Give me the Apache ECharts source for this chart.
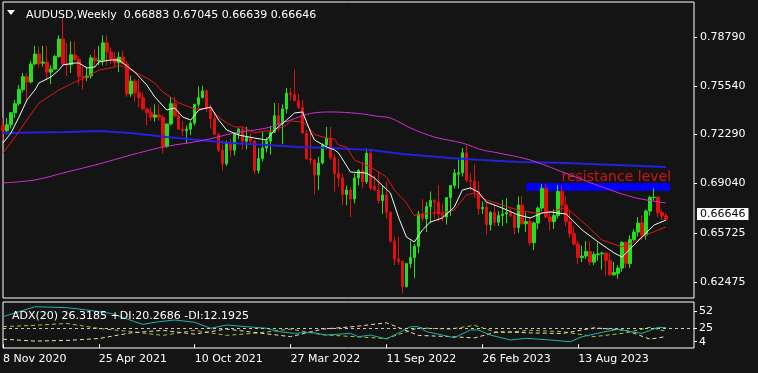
<!DOCTYPE html>
<html><head><meta charset="utf-8">
<script src="https://cdn.jsdelivr.net/npm/echarts@6/dist/echarts.min.js"></script>
<style>html,body{margin:0;padding:0;background:#141414;}#c{width:758px;height:373px;}</style>
</head><body><div id="c"></div>
<script>
const symbolName = 'AUDUSD,Weekly';
const dateTicks = ['8 Nov 2020','25 Apr 2021','10 Oct 2021','27 Mar 2022','11 Sep 2022','26 Feb 2023','13 Aug 2023'];
const priceTicks = [0.78790, 0.75540, 0.72290, 0.69040, 0.65725, 0.62475];
const adxTicks = [52, 25, 4];
const adxTitle = 'ADX(20) 26.3185 +DI:20.2686 -DI:12.1925';

const open = [.7290,.7255,.7295,.7375,.7435,.7530,.7615,.7580,.7700,.7765,.7705,.7712,.7645,.7665,.7750,.7865,.7700,.7695,.7760,.7730,
.7615,.7610,.7620,.7740,.7720,.7725,.7840,.7780,.7735,.7710,.7745,.7700,.7500,.7585,.7510,.7475,.7400,.7375,.7345,.7360,
.7345,.7150,.7300,.7435,.7355,.7265,.7255,.7265,.7305,.7430,.7475,.7520,.7405,.7335,.7230,.7125,.7035,.7175,.7125,.7235,
.7265,.7185,.7210,.7185,.6990,.7070,.7140,.7185,.7245,.7355,.7300,.7400,.7505,.7495,.7455,.7410,.7240,.7070,.7060,.6960,
.7040,.7160,.7205,.7075,.6970,.6940,.6830,.6860,.6800,.6940,.6990,.6915,.7105,.6885,.6860,.6790,.6827,.6712,.6520,.6400,
.6385,.6217,.6370,.6410,.6486,.6700,.6670,.6750,.6790,.6780,.6700,.6680,.6810,.6890,.6965,.6975,.7108,.6925,.6919,.6850,
.6735,.6745,.6630,.6710,.6645,.6690,.6700,.6710,.6690,.6610,.6760,.6635,.6650,.6510,.6640,.6740,.6870,.6680,.6650,.6690,
.6850,.6760,.6650,.6570,.6500,.6410,.6420,.6450,.6380,.6430,.6435,.6440,.6390,.6295,.6305,.6340,.6510,.6370,.6530,.6580,
.6640,.6560,.6720,.6810,.6812,.6710,.66883];
const high = [.7340,.7340,.7380,.7460,.7560,.7640,.7640,.7720,.7820,.7815,.7820,.7820,.7690,.7760,.7890,.8007,.7840,.7850,.7850,.7750,
.7680,.7680,.7760,.7800,.7820,.7890,.7890,.7810,.7780,.7780,.7790,.7720,.7620,.7600,.7600,.7510,.7410,.7410,.7430,.7430,
.7360,.7300,.7480,.7480,.7390,.7320,.7290,.7320,.7435,.7550,.7555,.7530,.7430,.7370,.7240,.7190,.7190,.7200,.7240,.7275,
.7280,.7280,.7240,.7195,.7140,.7250,.7210,.7285,.7440,.7440,.7430,.7540,.7540,.7661,.7500,.7460,.7260,.7265,.7065,.7080,
.7170,.7280,.7280,.7100,.7070,.6970,.6890,.6880,.6970,.7000,.7050,.7137,.7135,.6957,.6980,.6890,.6916,.6720,.6550,.6550,
.6390,.6370,.6522,.6500,.6720,.6800,.6780,.6850,.6800,.6893,.6770,.6810,.6890,.7000,.7063,.7140,.7158,.6970,.7030,.6920,
.6783,.6785,.6720,.6760,.6720,.6795,.6805,.6740,.6700,.6818,.6818,.6710,.6680,.6650,.6750,.6900,.6900,.6720,.6730,.6895,
.6890,.6820,.6720,.6620,.6520,.6490,.6520,.6520,.6450,.6510,.6450,.6445,.6445,.6380,.6360,.6520,.6520,.6560,.6600,.6680,
.6690,.6730,.6820,.6871,.6820,.6730,.67045];
const low = [.7190,.7230,.7270,.7340,.7420,.7510,.7460,.7570,.7690,.7675,.7680,.7590,.7565,.7660,.7740,.7690,.7620,.7640,.7720,.7560,
.7530,.7585,.7600,.7675,.7690,.7690,.7690,.7700,.7680,.7645,.7700,.7480,.7480,.7450,.7410,.7390,.7290,.7320,.7315,.7320,
.7105,.7140,.7290,.7340,.7260,.7220,.7170,.7225,.7290,.7410,.7470,.7380,.7270,.7230,.7110,.6990,.7020,.7080,.7090,.7200,
.7130,.7130,.7170,.6965,.6970,.7050,.7110,.7095,.7240,.7250,.7165,.7370,.7455,.7455,.7400,.7235,.7060,.7030,.6830,.6860,
.7030,.7130,.7060,.6850,.6880,.6760,.6760,.6680,.6770,.6890,.6870,.6900,.6860,.6855,.6770,.6700,.6670,.6510,.6360,.6360,
.6170,.6210,.6340,.6272,.6440,.6650,.6580,.6640,.6670,.6650,.6650,.6630,.6688,.6870,.6870,.6950,.6910,.6855,.6810,.6695,
.6700,.6565,.6590,.6620,.6620,.6620,.6640,.6680,.6565,.6575,.6630,.6580,.6490,.6460,.6600,.6720,.6670,.6590,.6600,.6670,
.6710,.6620,.6540,.6490,.6365,.6380,.6400,.6360,.6360,.6390,.6330,.6290,.6285,.6290,.6270,.6315,.6340,.6340,.6520,.6550,
.6525,.6530,.6690,.6790,.6680,.6660,.66639];
const close = [.7255,.7295,.7375,.7435,.7530,.7615,.7580,.7700,.7765,.7700,.7712,.7645,.7665,.7750,.7865,.7700,.7695,.7760,.7730,.7615,
.7610,.7620,.7740,.7720,.7725,.7840,.7780,.7735,.7710,.7745,.7700,.7500,.7585,.7510,.7475,.7400,.7375,.7345,.7360,.7345,
.7150,.7300,.7435,.7355,.7265,.7255,.7265,.7305,.7430,.7475,.7520,.7405,.7335,.7230,.7125,.7035,.7175,.7125,.7235,.7265,
.7185,.7210,.7185,.6990,.7070,.7140,.7185,.7245,.7355,.7300,.7400,.7505,.7495,.7455,.7410,.7240,.7070,.7060,.6960,.7040,
.7160,.7205,.7075,.6970,.6940,.6830,.6860,.6800,.6940,.6990,.6915,.7105,.6873,.6860,.6790,.6827,.6712,.6520,.6400,.6385,
.6217,.6370,.6410,.6486,.6700,.6670,.6750,.6790,.6780,.6700,.6680,.6810,.6890,.6974,.6975,.7108,.6925,.6919,.6850,.6735,
.6745,.6630,.6710,.6645,.6690,.6700,.6710,.6690,.6610,.6760,.6635,.6650,.6510,.6640,.6740,.6870,.6680,.6650,.6690,.6850,
.6760,.6650,.6570,.6500,.6410,.6420,.6450,.6380,.6430,.6435,.6440,.6390,.6295,.6310,.6340,.6510,.6370,.6530,.6580,.6640,
.6560,.6720,.6810,.6812,.6710,.6688,.66646];

// moving averages: [bar index, value]
const maFast = [[0,.7173],[2,.7240],[4,.7346],[6,.7460],[8,.7526],[9,.7573],[12,.7613],[14,.7659],[15,.7693],[18,.7706],[19,.7706],[21,.7673],[23,.7679],[24,.7713],[27,.7726],[29,.7726],[33,.7646],[36,.7559],[38,.7480],[41,.7393],[43,.7406],[45,.7346],[47,.7326],[49,.7393],[52,.7413],[54,.7326],[56,.7260],[59,.7226],[63,.7206],[66,.7193],[68,.7260],[71,.7326],[73,.7373],[75,.7380],[77,.7246],[78,.7193],[81,.7147],[83,.7127],[84,.7107],[87,.6980],[91,.6973],[93,.6940],[97,.6840],[99,.6680],[101,.6547],[103,.6514],[105,.6594],[107,.6647],[110,.6674],[113,.6747],[115,.6860],[117,.6874],[119,.6847],[121,.6780],[125,.6740],[129,.6694],[132,.6674],[135,.6707],[137,.6714],[141,.6700],[145,.6594],[149,.6514],[153,.6441],[155,.6414],[158,.6494],[160,.6547],[163,.6627],[166,.6660]];
const maSlow = [[0,.7107],[3,.7213],[6,.7326],[9,.7440],[14,.7526],[18,.7579],[21,.7613],[24,.7659],[28,.7679],[29,.7693],[33,.7646],[36,.7606],[38,.7573],[40,.7513],[43,.7460],[44,.7440],[48,.7400],[52,.7406],[53,.7373],[54,.7346],[56,.7306],[58,.7280],[60,.7280],[63,.7240],[64,.7246],[68,.7260],[71,.7293],[72,.7320],[75,.7313],[76,.7293],[78,.7230],[81,.7206],[83,.7200],[84,.7160],[86,.7147],[88,.7060],[92,.7013],[96,.6947],[98,.6860],[101,.6774],[103,.6690],[107,.6707],[110,.6707],[113,.6727],[116,.6827],[118,.6840],[121,.6794],[125,.6760],[129,.6727],[133,.6707],[137,.6714],[141,.6745],[146,.6627],[150,.6527],[155,.6481],[158,.6514],[161,.6561],[164,.6594],[166,.6614]];
const maMid = [[0,.6907],[8,.6927],[16,.6980],[24,.7033],[32,.7093],[40,.7146],[50,.7190],[58,.7240],[66,.7273],[72,.7326],[77,.7370],[82,.7380],[89,.7370],[94,.7350],[97,.7340],[102,.7273],[108,.7213],[115,.7173],[120,.7127],[124,.7107],[132,.7060],[142,.6960],[150,.6880],[158,.6810],[166,.6774]];
const maLong = [[0,.7240],[16,.7246],[24,.7253],[32,.7240],[41,.7213],[49,.7193],[57,.7173],[66,.7160],[74,.7146],[82,.7140],[92,.7127],[100,.7100],[112,.7073],[120,.7060],[129,.7047],[141,.7040],[166,.7013]];

const adx = [[0,43.7],[8,59.5],[16,58],[21,54.3],[27,49],[33,35.7],[35,31.6],[39,35.7],[43,38.4],[48,34.8],[52,25.3],[56,30.5],[61,27.8],[66,25.3],[69,19.9],[73,17.3],[77,18.9],[81,14.6],[87,17.3],[89,11.9],[92,14.6],[96,8.3],[98,14.6],[102,27.8],[104,27.8],[106,19.9],[110,14.6],[113,10.3],[117,22.6],[119,22.6],[122,14.6],[127,6.7],[131,9.4],[137,6.7],[142,4.0],[145,11.9],[150,18.9],[154,23.7],[157,19.9],[160,17.3],[164,26.8],[166,26.3]];
const plusDI = [[0,28],[8,30],[16,33],[24,25],[32,20],[40,14],[48,22],[56,14],[64,18],[72,24],[80,15],[88,12],[96,9],[104,26],[112,24],[118,30],[124,18],[132,22],[140,20],[148,12],[156,18],[162,27],[166,20.27]];
const minusDI = [[0,8],[8,5],[16,6],[24,9],[32,18],[40,22],[48,16],[56,24],[64,18],[72,12],[80,24],[88,28],[96,34],[104,14],[112,12],[118,10],[124,20],[132,18],[140,17],[148,26],[156,22],[162,8],[166,12.19]];

const resistance = {from: 131, to: 167, top: 0.6907, bottom: 0.6855, text: 'resistance level'};

const N = 174;
const start = Date.UTC(2020, 10, 8);
const categories = [];
for (let i = 0; i < N; i++) categories.push(new Date(start + i * 7 * 86400000).toISOString().slice(0, 10));
const candles = open.map((o, i) => [o, close[i], low[i], high[i]]);
const last = open.length - 1;

const FONT = 'DejaVu Sans';
const WHITE = '#ffffff';
const chart = echarts.init(document.getElementById('c'), null, {renderer: 'canvas'});
const tickShow = (i) => i % 24 === 0 && i / 24 < dateTicks.length;

chart.setOption({
  animation: false,
  backgroundColor: '#141414',
  textStyle: {fontFamily: FONT},
  title: [
    {text: symbolName + '  ' + [open[last], high[last], low[last], close[last]].map(v => v.toFixed(5)).join(' '),
     left: 21, top: 5, textStyle: {color: WHITE, fontSize: 11, fontWeight: 'normal', fontFamily: FONT}},
    {text: adxTitle, left: 7, top: 306, textStyle: {color: WHITE, fontSize: 11, fontWeight: 'normal', fontFamily: FONT}}
  ],
  graphic: [{type: 'polygon', shape: {points: [[7, 10], [15, 10], [11, 15]]}, style: {fill: WHITE}, z: 100}],
  grid: [
    {left: 3, width: 691, top: 2, height: 296, show: true, borderColor: WHITE, borderWidth: 1, backgroundColor: '#141414'},
    {left: 3, width: 691, top: 302, height: 46, show: true, borderColor: WHITE, borderWidth: 1, backgroundColor: '#141414'}
  ],
  xAxis: [
    {type: 'category', gridIndex: 0, data: categories, boundaryGap: false,
     axisLine: {show: false}, axisTick: {show: false}, axisLabel: {show: false}, splitLine: {show: false}},
    {type: 'category', gridIndex: 1, data: categories, boundaryGap: false,
     axisLine: {show: false},
     axisTick: {show: true, interval: tickShow, length: 4, lineStyle: {color: WHITE}},
     axisLabel: {show: true, interval: tickShow, color: WHITE, fontSize: 11, fontFamily: FONT, align: 'left', margin: 6,
       formatter: (v, i) => dateTicks[Math.round(i / 24)]},
     splitLine: {show: false}}
  ],
  yAxis: [
    {type: 'value', gridIndex: 0, position: 'right', min: 0.61410, max: 0.81121, scale: true,
     axisLine: {show: false}, splitLine: {show: false},
     axisTick: {show: true, customValues: priceTicks, length: 3, lineStyle: {color: WHITE}},
     axisLabel: {show: true, customValues: priceTicks, color: WHITE, fontSize: 11, fontFamily: FONT, margin: 6,
       formatter: v => v.toFixed(5)}},
    {type: 'value', gridIndex: 1, position: 'right', min: -6, max: 67,
     axisLine: {show: false}, splitLine: {show: false},
     axisTick: {show: true, customValues: adxTicks, length: 3, lineStyle: {color: WHITE}},
     axisLabel: {show: true, customValues: adxTicks, color: WHITE, fontSize: 11, fontFamily: FONT, margin: 5,
       formatter: v => String(Math.round(v))}}
  ],
  series: [
    {type: 'line', name: 'zone', xAxisIndex: 0, yAxisIndex: 0, data: [], z: 1, silent: true,
     markArea: {silent: true, itemStyle: {color: '#0000ff', opacity: 1},
       label: {show: true, position: 'insideTopRight', offset: [6, -18], color: '#d41414', fontSize: 14, fontFamily: FONT},
       data: [[{name: resistance.text, coord: [resistance.from, resistance.top]}, {coord: [resistance.to, resistance.bottom]}]]}},
    {type: 'candlestick', name: 'AUDUSD', xAxisIndex: 0, yAxisIndex: 0, data: candles, barWidth: 3, z: 3,
     itemStyle: {color: '#20e020', color0: '#e01010', borderColor: '#20e020', borderColor0: '#e01010', borderWidth: 1},
     markLine: {silent: true, symbol: 'none', lineStyle: {color: 'rgba(0,0,0,0)', width: 0},
       label: {show: true, position: 'end', distance: 3, formatter: () => close[last].toFixed(5), color: '#000', backgroundColor: WHITE,
         padding: [1, 3, 0, 3], fontSize: 11, fontFamily: FONT},
       data: [{yAxis: close[last]}]}},
    {type: 'line', name: 'MA long', xAxisIndex: 0, yAxisIndex: 0, data: maLong, symbol: 'none', z: 4,
     lineStyle: {color: '#2222dd', width: 2}},
    {type: 'line', name: 'MA mid', xAxisIndex: 0, yAxisIndex: 0, data: maMid, symbol: 'none', z: 4, smooth: 0.3,
     lineStyle: {color: '#d22cd2', width: 1}},
    {type: 'line', name: 'MA slow', xAxisIndex: 0, yAxisIndex: 0, data: maSlow, symbol: 'none', z: 5,
     lineStyle: {color: '#e01818', width: 1}},
    {type: 'line', name: 'MA fast', xAxisIndex: 0, yAxisIndex: 0, data: maFast, symbol: 'none', z: 6,
     lineStyle: {color: '#e8fff0', width: 1}},
    {type: 'line', name: 'ADX', xAxisIndex: 1, yAxisIndex: 1, data: adx, symbol: 'none', z: 4,
     lineStyle: {color: '#20b2aa', width: 1},
     markLine: {silent: true, symbol: 'none', label: {show: false}, lineStyle: {color: '#c8c8c8', width: 1, type: [3, 3]},
       data: [{yAxis: 25}]}},
    {type: 'line', name: '+DI', xAxisIndex: 1, yAxisIndex: 1, data: plusDI, symbol: 'none', z: 3,
     lineStyle: {color: '#9acd32', width: 1, type: [4, 3]}},
    {type: 'line', name: '-DI', xAxisIndex: 1, yAxisIndex: 1, data: minusDI, symbol: 'none', z: 3,
     lineStyle: {color: '#f5deb3', width: 1, type: [4, 3]}}
  ]
});
</script></body></html>
